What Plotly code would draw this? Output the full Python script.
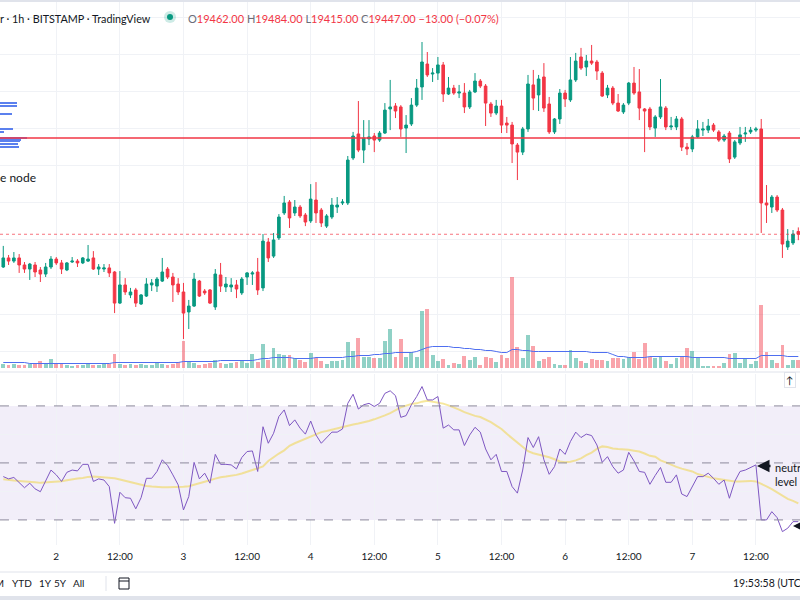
import pandas as pd
import plotly.graph_objects as go

# 1h BITSTAMP candles, 2022-10-01 14:00 .. 2022-10-07 20:00
opens = [
    19270, 19319, 19302, 19319, 19281, 19259, 19281, 19254, 19232, 19270,
    19313, 19292, 19254, 19297, 19302, 19292, 19302, 19319, 19259, 19259,
    19265, 19243, 19075, 19173, 19119, 19146, 19070, 19113, 19173, 19167,
    19194, 19259, 19216, 19178, 19135, 19027, 19059, 19194, 19140, 19146,
    19054, 19227, 19162, 19162, 19173, 19130, 19216, 19232, 19243, 19157,
    19405, 19329, 19427, 19562, 19621, 19562, 19594, 19551, 19519, 19632,
    19578, 19491, 19540, 19594, 19616, 19616, 19859, 19989, 19902, 19962,
    19978, 19956, 19994, 20124, 20140, 20135, 20021, 20043, 20145, 20243,
    20367, 20313, 20318, 20362, 20205, 20237, 20210, 20210, 20135, 20216,
    20275, 20248, 20151, 20102, 20140, 20048, 20037, 19929, 19891, 20016,
    20254, 20200, 20297, 20151, 20000, 20070, 20210, 20173, 20281, 20405,
    20351, 20383, 20378, 20318, 20200, 20237, 20156, 20108, 20156, 20264,
    20216, 20124, 20124, 20021, 20081, 20129, 20027, 20027, 20070, 19918,
    19908, 19973, 20010, 20010, 20037, 20000, 19956, 19994, 19864, 19940,
    19989, 20000, 20010, 20016, 19616, 19594, 19648, 19578, 19378, 19400,
    19462,
]
highs = [
    19384, 19335, 19351, 19340, 19297, 19292, 19297, 19270, 19292, 19329,
    19324, 19308, 19297, 19324, 19313, 19324, 19389, 19356, 19286, 19286,
    19286, 19248, 19248, 19210, 19157, 19157, 19124, 19210, 19205, 19216,
    19319, 19270, 19238, 19210, 19184, 19092, 19238, 19200, 19151, 19151,
    19259, 19292, 19216, 19210, 19200, 19216, 19243, 19248, 19319, 19448,
    19427, 19454, 19556, 19654, 19632, 19632, 19605, 19562, 19718, 19729,
    19589, 19556, 19643, 19648, 19637, 19870, 20000, 20167, 20064, 20064,
    19994, 20005, 20156, 20281, 20156, 20145, 20091, 20183, 20286, 20486,
    20432, 20345, 20405, 20378, 20297, 20254, 20254, 20264, 20227, 20318,
    20286, 20259, 20162, 20173, 20173, 20081, 20054, 19940, 20027, 20308,
    20335, 20308, 20372, 20189, 20075, 20232, 20227, 20405, 20427, 20454,
    20416, 20470, 20389, 20329, 20254, 20248, 20205, 20156, 20270, 20351,
    20340, 20129, 20135, 20091, 20286, 20140, 20081, 20086, 20081, 19940,
    19984, 20064, 20054, 20070, 20048, 20010, 19989, 20005, 19956, 20027,
    20027, 20027, 20027, 20070, 19713, 19659, 19659, 19589, 19475, 19470,
    19484,
]
lows = [
    19265, 19281, 19292, 19238, 19238, 19200, 19216, 19189, 19216, 19259,
    19281, 19232, 19248, 19292, 19270, 19286, 19297, 19254, 19227, 19243,
    19216, 19021, 19070, 19119, 19102, 19054, 19065, 19108, 19140, 19135,
    19189, 19205, 19081, 19119, 18881, 18935, 19054, 19108, 19119, 19070,
    19038, 19135, 19135, 19135, 19102, 19119, 19173, 19173, 19119, 19140,
    19297, 19319, 19416, 19551, 19481, 19546, 19535, 19491, 19508, 19508,
    19486, 19481, 19529, 19562, 19605, 19605, 19848, 19891, 19832, 19929,
    19891, 19946, 19989, 20010, 20075, 19973, 19886, 20032, 20135, 20173,
    20297, 20270, 20281, 20162, 20200, 20200, 20183, 20102, 20124, 20210,
    20237, 20032, 20081, 20091, 19994, 19994, 19832, 19740, 19875, 20000,
    20118, 20113, 20108, 19989, 19989, 20043, 20135, 20162, 20270, 20335,
    20302, 20362, 20281, 20189, 20183, 20145, 20108, 20097, 20145, 20200,
    20064, 19891, 20010, 19973, 20070, 20010, 20010, 20010, 19897, 19875,
    19891, 19967, 19978, 19994, 20000, 19946, 19946, 19832, 19854, 19929,
    19946, 19989, 20000, 19454, 19508, 19562, 19567, 19319, 19362, 19389,
    19415,
]
closes = [
    19319, 19302, 19319, 19281, 19259, 19286, 19243, 19232, 19270, 19313,
    19292, 19259, 19292, 19302, 19292, 19319, 19313, 19259, 19270, 19265,
    19238, 19075, 19173, 19135, 19135, 19075, 19119, 19178, 19184, 19205,
    19243, 19216, 19173, 19135, 19021, 19059, 19205, 19113, 19130, 19075,
    19232, 19167, 19178, 19173, 19151, 19205, 19238, 19238, 19146, 19410,
    19319, 19416, 19540, 19616, 19535, 19594, 19546, 19513, 19637, 19562,
    19508, 19546, 19605, 19605, 19621, 19848, 19978, 19902, 19967, 19973,
    19956, 19994, 20118, 20135, 20113, 20016, 20037, 20145, 20237, 20378,
    20308, 20318, 20362, 20205, 20237, 20210, 20216, 20135, 20216, 20275,
    20248, 20156, 20102, 20140, 20037, 20037, 19935, 19891, 20016, 20259,
    20183, 20286, 20129, 20000, 20070, 20210, 20178, 20281, 20383, 20345,
    20383, 20372, 20329, 20194, 20237, 20156, 20113, 20145, 20264, 20210,
    20129, 20113, 20027, 20081, 20135, 20027, 20032, 20070, 19918, 19908,
    19973, 20016, 20016, 20032, 20010, 19956, 19978, 19854, 19946, 19984,
    19994, 20010, 20016, 19616, 19605, 19648, 19578, 19394, 19410, 19448,
    19447,
]
volumes = [
    80, 60, 80, 60, 60, 80, 100, 140, 80, 180,
    80, 80, 60, 40, 60, 60, 80, 60, 60, 80,
    80, 280, 80, 60, 80, 60, 80, 60, 60, 100,
    80, 60, 80, 120, 540, 120, 100, 60, 80, 100,
    160, 100, 80, 100, 120, 140, 100, 280, 120, 480,
    160, 400, 280, 260, 260, 200, 160, 120, 300, 200,
    140, 80, 140, 140, 160, 520, 340, 600, 220, 220,
    200, 200, 540, 780, 220, 580, 220, 320, 220, 1140,
    1180, 260, 140, 180, 60, 100, 80, 240, 160, 220,
    60, 220, 200, 120, 260, 200, 1820, 420, 200, 660,
    440, 140, 180, 220, 80, 60, 60, 360, 200, 140,
    100, 180, 160, 160, 140, 200, 200, 180, 220, 320,
    180, 500, 220, 200, 240, 140, 80, 200, 240, 400,
    340, 200, 40, 40, 40, 40, 100, 280, 300, 100,
    180, 80, 140, 1260, 320, 160, 100, 460, 60, 160,
    160,
]
volume_ma = [
    100, 100, 100, 100, 100, 80, 80, 80, 80, 80,
    80, 80, 80, 80, 80, 80, 80, 80, 80, 80,
    80, 100, 100, 100, 100, 100, 100, 100, 100, 100,
    100, 100, 100, 100, 120, 120, 120, 120, 120, 120,
    120, 140, 140, 140, 140, 140, 140, 140, 160, 180,
    180, 200, 200, 200, 200, 180, 180, 180, 180, 200,
    200, 200, 200, 200, 200, 220, 220, 240, 240, 240,
    260, 260, 280, 280, 300, 300, 300, 300, 320, 360,
    400, 420, 420, 420, 420, 400, 400, 380, 380, 360,
    360, 340, 340, 320, 300, 300, 360, 360, 340, 340,
    320, 320, 320, 320, 320, 320, 320, 320, 320, 320,
    320, 300, 300, 300, 300, 260, 220, 220, 200, 200,
    200, 200, 220, 220, 220, 220, 220, 220, 220, 220,
    200, 200, 200, 200, 200, 200, 200, 180, 180, 180,
    180, 180, 180, 240, 240, 240, 240, 240, 220, 220,
    220,
]
rsi = [
    45.2, 44.4, 44.9, 43.2, 41.3, 42.9, 40.9, 39.9, 43.7, 47.5,
    45.8, 43.5, 46.7, 47.5, 47.2, 49.5, 49.5, 43.5, 44.4, 44.0,
    41.7, 28.8, 39.7, 37.8, 37.6, 33.9, 37.8, 44.6, 44.6, 47.0,
    51.1, 49.1, 45.8, 42.3, 33.5, 38.2, 50.2, 44.4, 46.4, 42.9,
    53.0, 49.5, 49.5, 49.3, 47.9, 51.9, 54.0, 54.2, 47.0, 62.7,
    56.9, 60.4, 66.3, 68.6, 63.1, 65.1, 62.2, 60.1, 64.7, 59.8,
    56.9, 58.7, 60.8, 60.8, 61.9, 70.9, 74.1, 68.9, 70.4, 70.9,
    69.8, 70.9, 74.4, 75.3, 73.6, 66.0, 66.6, 70.4, 73.3, 76.8,
    72.1, 72.1, 73.3, 62.2, 63.3, 61.6, 61.6, 56.1, 59.8, 62.5,
    60.8, 54.9, 51.1, 53.0, 47.0, 47.0, 41.7, 39.4, 47.5, 58.9,
    55.4, 59.2, 51.1, 46.0, 48.7, 54.9, 53.0, 57.5, 60.8, 58.9,
    60.1, 59.6, 56.3, 50.2, 52.2, 48.7, 46.4, 47.5, 53.7, 50.7,
    47.0, 46.7, 42.5, 45.6, 48.4, 43.2, 43.2, 45.8, 39.1, 38.2,
    41.7, 45.2, 45.2, 46.4, 44.6, 42.5, 44.0, 37.6, 43.5, 47.0,
    47.5, 48.4, 49.3, 30.0, 30.0, 32.9, 30.8, 25.9, 27.1, 29.4,
    29.4,
]
rsi_ma = [
    44.3, 44.0, 43.8, 43.7, 43.6, 43.5, 43.2, 43.0, 43.1, 43.2,
    43.5, 43.6, 43.9, 44.3, 44.5, 44.7, 45.1, 45.2, 45.1, 45.0,
    44.9, 44.6, 44.2, 43.7, 43.3, 42.9, 42.3, 41.9, 41.7, 41.5,
    41.5, 41.5, 41.5, 41.5, 41.6, 41.8, 42.3, 42.7, 43.2, 43.9,
    44.5, 45.0, 45.2, 45.4, 45.8, 46.3, 47.0, 47.5, 48.1, 48.8,
    50.7, 52.1, 53.3, 54.4, 56.0, 56.9, 57.7, 58.4, 59.1, 60.1,
    60.8, 61.2, 61.7, 62.2, 62.6, 63.1, 63.5, 63.8, 64.2, 64.7,
    65.3, 65.9, 66.7, 67.5, 68.5, 69.5, 70.1, 70.7, 70.9, 71.5,
    71.8, 71.5, 71.3, 70.8, 70.2, 69.5, 68.7, 67.8, 67.1, 66.5,
    66.1, 65.2, 64.3, 63.1, 61.9, 60.2, 58.7, 56.9, 55.4, 54.1,
    53.4, 53.0, 52.6, 52.0, 51.3, 50.5, 50.2, 50.4, 50.9, 51.6,
    52.7, 53.6, 54.9, 55.8, 55.6, 55.1, 54.9, 54.8, 54.6, 54.3,
    54.0, 53.3, 52.5, 52.2, 50.9, 50.2, 49.3, 48.6, 48.0, 47.5,
    47.0, 46.1, 45.7, 45.1, 44.6, 44.3, 43.9, 43.7, 43.5, 43.5,
    43.7, 43.7, 43.5, 42.7, 41.8, 40.8, 39.7, 38.5, 37.4, 36.7,
    35.8,
]

# volume profile stub on the left edge (price level -> bar length in px)
vp_levels = [20156, 20143, 20097, 20018, 20000, 19970, 19959, 19951, 19937, 19921]
vp_sizes = [17, 17, 12, 13, 4, 27, 21, 20, 18, 19]

resistance = 19967
last_close = 19447

for arr in (highs, lows, closes, volumes, volume_ma, rsi, rsi_ma):
    assert len(arr) == len(opens), len(arr)

times = pd.date_range("2022-10-01 14:00", periods=len(opens), freq="h")

UP = "#089981"
DOWN = "#f23645"
vol_colors = ["rgba(8,153,129,0.45)" if c >= o else "rgba(242,54,69,0.45)"
              for o, c in zip(opens, closes)]

tick_vals = pd.date_range("2022-10-02 00:00", "2022-10-07 12:00", freq="12h")
tick_text = [str(t.day) if t.hour == 0 else "12:00" for t in tick_vals]
x_range = ["2022-10-01 13:23", "2022-10-07 20:19"]
GRID = "#f0f2f6"
FONT = "Lato"


def px_x(p):
    return p / 800


def px_y(p):
    return 1 - p / 600


fig = go.Figure()

fig.add_trace(go.Bar(
    x=times, y=volumes, marker=dict(color=vol_colors, line_width=0),
    width=0.72 * 3600000, xaxis="x", yaxis="y3", name="Volume"))
fig.add_trace(go.Scatter(
    x=times, y=volume_ma, mode="lines", line=dict(color="#4f6ff0", width=1),
    xaxis="x", yaxis="y3", name="Vol MA"))
fig.add_trace(go.Candlestick(
    x=times, open=opens, high=highs, low=lows, close=closes,
    increasing=dict(line=dict(color=UP, width=1), fillcolor=UP),
    decreasing=dict(line=dict(color=DOWN, width=1), fillcolor=DOWN),
    whiskerwidth=0, xaxis="x", yaxis="y", name="BTCUSD"))
fig.add_trace(go.Bar(
    x=vp_sizes, y=vp_levels, orientation="h", width=8,
    marker=dict(color="#5b80ee", line_width=0),
    xaxis="x3", yaxis="y", name="VP"))
fig.add_trace(go.Scatter(
    x=times, y=rsi_ma, mode="lines", line=dict(color="rgba(240,215,90,0.6)", width=2),
    xaxis="x2", yaxis="y2", name="RSI MA"))
fig.add_trace(go.Scatter(
    x=times, y=rsi, mode="lines", line=dict(color="#7e57c2", width=1),
    xaxis="x2", yaxis="y2", name="RSI"))

shapes = [
    # RSI band and levels
    dict(type="rect", xref="paper", yref="y2", x0=0, x1=1, y0=30, y1=70,
         fillcolor="rgba(126,87,194,0.1)", line_width=0, layer="below"),
    *[dict(type="line", xref="paper", yref="y2", x0=0, x1=1, y0=v, y1=v,
           line=dict(color="#8c8a9c", width=1, dash="dash"))
      for v in (70, 50, 30)],
    # price lines
    dict(type="line", xref="paper", yref="y", x0=0, x1=1, y0=resistance, y1=resistance,
         line=dict(color=DOWN, width=1.5)),
    dict(type="line", xref="paper", yref="y", x0=0, x1=1, y0=last_close, y1=last_close,
         line=dict(color="rgba(242,54,69,0.7)", width=1, dash="dot")),
    # pane separator, frame lines
    dict(type="line", xref="paper", yref="paper", x0=0, x1=1, y0=px_y(372), y1=px_y(372),
         line=dict(color="#e0e3eb", width=1)),
    dict(type="rect", xref="paper", yref="paper", x0=0, x1=1, y0=px_y(2), y1=1,
         fillcolor="#e0e3eb", line_width=0),
    dict(type="line", xref="paper", yref="paper", x0=0, x1=1, y0=px_y(572), y1=px_y(572),
         line=dict(color="#e0e3eb", width=1)),
    dict(type="rect", xref="paper", yref="paper", x0=0, x1=1, y0=0, y1=px_y(596),
         fillcolor="#e0e3eb", line_width=0),
    dict(type="line", xref="paper", yref="paper", x0=px_x(106), x1=px_x(106),
         y0=px_y(576), y1=px_y(591), line=dict(color="#e0e3eb", width=1)),
    # header status dot
    dict(type="circle", xref="paper", yref="paper", x0=px_x(164), x1=px_x(176),
         y0=px_y(23), y1=px_y(11), fillcolor="rgba(8,153,129,0.2)", line_width=0),
    dict(type="circle", xref="paper", yref="paper", x0=px_x(167), x1=px_x(173),
         y0=px_y(20), y1=px_y(14), fillcolor=UP, line_width=0),
    # calendar icon
    dict(type="rect", xref="paper", yref="paper", x0=px_x(119), x1=px_x(129),
         y0=px_y(589), y1=px_y(578), line=dict(color="#131722", width=1)),
    dict(type="line", xref="paper", yref="paper", x0=px_x(119), x1=px_x(129),
         y0=px_y(581), y1=px_y(581), line=dict(color="#131722", width=1)),
]

red = "color:#f23645"
ohlc = (f"O<span style='{red}'>19462.00</span> H<span style='{red}'>19484.00</span> "
        f"L<span style='{red}'>19415.00</span> C<span style='{red}'>19447.00</span> "
        f"<span style='{red}'>−13.00 (−0.07%)</span>")

txt = dict(color="#131722", family=FONT)
annotations = [
    dict(xref="paper", yref="paper", x=px_x(-2), y=px_y(18), xanchor="left", yanchor="middle",
         text="r · 1h · BITSTAMP · TradingView", showarrow=False, font=dict(size=10.8, **txt)),
    dict(xref="paper", yref="paper", x=px_x(186), y=px_y(18), xanchor="left", yanchor="middle",
         text=ohlc, showarrow=False, font=dict(size=11, color="#6a6d78", family=FONT)),
    dict(xref="paper", yref="paper", x=px_x(-2), y=px_y(178), xanchor="left", yanchor="middle",
         text="e node", showarrow=False, font=dict(size=12, **txt)),
    dict(xref="x2", yref="paper", x="2022-10-01 12:00", y=px_y(557), xanchor="center",
         yanchor="middle", text="12:00", showarrow=False, font=dict(size=10, **txt)),
    # arrows on the RSI pane
    dict(xref="paper", yref="paper", x=px_x(757), y=px_y(466), ax=15, ay=0, text="",
         showarrow=True, arrowhead=2, arrowsize=1, arrowwidth=2.5, arrowcolor="#131722"),
    dict(xref="paper", yref="paper", x=px_x(773), y=px_y(459), xanchor="left", yanchor="top",
         align="left", text="neutral<br>level", showarrow=False, font=dict(size=11, **txt)),
    dict(xref="paper", yref="paper", x=px_x(793), y=px_y(526), ax=15, ay=0, text="",
         showarrow=True, arrowhead=2, arrowsize=1, arrowwidth=2.5, arrowcolor="#131722"),
    # scroll button
    dict(xref="paper", yref="paper", x=px_x(790), y=px_y(380), xanchor="center",
         yanchor="middle", text="↑", showarrow=False, bgcolor="white",
         bordercolor="#e0e3eb", borderwidth=1, borderpad=1, font=dict(size=10, **txt)),
    # bottom toolbar
    dict(xref="paper", yref="paper", x=px_x(6), y=px_y(583), xanchor="right",
         yanchor="middle", text="1M", showarrow=False, font=dict(size=10, **txt)),
    *[dict(xref="paper", yref="paper", x=px_x(cx), y=px_y(583), xanchor="center",
           yanchor="middle", text=t, showarrow=False, font=dict(size=10, **txt))
      for cx, t in ((22, "YTD"), (45, "1Y"), (60, "5Y"), (78, "All"))],
    dict(xref="paper", yref="paper", x=px_x(731), y=px_y(583), xanchor="left",
         yanchor="middle", text="19:53:58 (UTC+1)", showarrow=False, font=dict(size=10.5, **txt)),
]

fig.update_layout(
    width=800, height=600,
    margin=dict(l=0, r=0, t=0, b=0, autoexpand=False),
    paper_bgcolor="white", plot_bgcolor="white",
    showlegend=False, bargap=0,
    font=dict(family=FONT, size=10, color="#131722"),
    xaxis=dict(type="date", range=x_range, domain=[0, 1], anchor="y", automargin=False,
               tickvals=tick_vals, ticktext=tick_text, showticklabels=False,
               showgrid=True, gridcolor=GRID, zeroline=False, rangeslider=dict(visible=False),
               fixedrange=True),
    xaxis2=dict(type="date", range=x_range, domain=[0, 1], anchor="y2", matches="x",
                automargin=False, tickvals=tick_vals, ticktext=tick_text,
                showticklabels=True, ticks="", ticklabelstandoff=4,
                showgrid=True, gridcolor=GRID, zeroline=False, showline=False,
                tickfont=dict(size=10, color="#131722", family=FONT)),
    xaxis3=dict(range=[0, 800], overlaying="x", anchor="y", visible=False),
    yaxis=dict(domain=[px_y(371), 1], range=[18708, 20713], tick0=16, dtick=200,
               automargin=False, showticklabels=False, showgrid=True, gridcolor=GRID,
               zeroline=False),
    yaxis3=dict(overlaying="y", range=[-70, 7350], visible=False, showgrid=False),
    yaxis2=dict(domain=[px_y(545), px_y(374)], range=[21.2, 81.2], automargin=False,
                tickvals=[40, 60], showticklabels=False, showgrid=True,
                gridcolor=GRID, zeroline=False, anchor="x2"),
    shapes=shapes,
    annotations=annotations,
)

# page body has a default 8px margin; drop it so the chart fills the window
fig.write_html("out.html", config={"displayModeBar": False},
               post_script="document.body.style.margin='0';")
